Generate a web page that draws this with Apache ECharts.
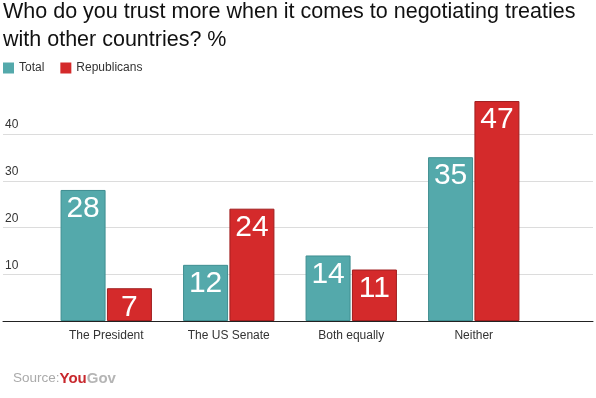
<!DOCTYPE html>
<html>
<head>
<meta charset="utf-8">
<script src="https://cdn.jsdelivr.net/npm/echarts@6/dist/echarts.min.js"></script>
<style>
  html, body { margin: 0; padding: 0; background: #fff; }
  #chart { width: 596px; height: 398px; }
</style>
</head>
<body>
<div id="chart"></div>
<script>
// data
const categories = ['The President', 'The US Senate', 'Both equally', 'Neither'];
const totalValues = [28, 12, 14, 35];
const republicanValues = [7, 24, 11, 47];
const yTicks = [0, 10, 20, 30, 40];

const font = 'Arial, "Liberation Sans", sans-serif';
const teal = '#54a9ab';
const red = '#d42a2b';

let myChart = echarts.init(document.getElementById('chart'));

function barLabel() {
    return {
        show: true,
        position: 'insideTop',
        distance: 4,
        color: '#fff',
        fontSize: 30,
        fontFamily: font
    };
}

myChart.setOption({
    animation: false,
    title: {
        text: 'Who do you trust more when it comes to negotiating treaties\nwith other countries? %',
        left: 0,
        top: -2,
        padding: [0, 3],
        textStyle: {
            fontSize: 21.5,
            lineHeight: 28,
            fontWeight: 'normal',
            color: '#111',
            fontFamily: font
        }
    },
    legend: {
        left: 0,
        top: 62,
        padding: [0, 3],
        icon: 'rect',
        itemWidth: 11,
        itemHeight: 11,
        itemGap: 16,
        itemStyle: { borderWidth: 0 },
        data: ['Total', 'Republicans'],
        textStyle: { fontSize: 12, color: '#333', fontFamily: font }
    },
    grid: [
        // gridlines + y labels
        { left: 3, right: 3, top: 134, bottom: 77 },
        // bars
        { left: 45, width: 490, top: 87, bottom: 77 }
    ],
    xAxis: [
        {
            gridIndex: 0,
            type: 'value',
            min: 0,
            max: 1,
            axisLine: { show: true, lineStyle: { color: '#222', width: 1 } },
            axisTick: { show: false },
            axisLabel: { show: false },
            splitLine: { show: false }
        },
        {
            gridIndex: 1,
            type: 'category',
            data: categories,
            axisLine: { show: false },
            axisTick: { show: false },
            axisLabel: { color: '#333', fontSize: 12, margin: 9, fontFamily: font }
        }
    ],
    yAxis: [
        {
            gridIndex: 0,
            type: 'value',
            min: yTicks[0],
            max: yTicks[yTicks.length - 1],
            interval: 10,
            axisLine: { show: false },
            axisTick: { show: false },
            axisLabel: {
                inside: true,
                showMinLabel: false,
                margin: 2,
                verticalAlign: 'bottom',
                padding: [0, 0, 3, 0],
                color: '#333',
                fontSize: 12,
                fontFamily: font
            },
            splitLine: { lineStyle: { color: '#dcdcdc' } }
        },
        {
            gridIndex: 1,
            type: 'value',
            min: 0,
            max: 50,
            show: false
        }
    ],
    series: [
        {
            name: 'Total',
            type: 'bar',
            xAxisIndex: 1,
            yAxisIndex: 1,
            data: totalValues,
            barWidth: 45,
            barGap: '3%',
            itemStyle: { color: teal, borderColor: '#3f8e91', borderWidth: 1 },
            label: barLabel()
        },
        {
            name: 'Republicans',
            type: 'bar',
            xAxisIndex: 1,
            yAxisIndex: 1,
            data: republicanValues,
            barWidth: 45,
            itemStyle: { color: red, borderColor: '#a01e1f', borderWidth: 1 },
            label: barLabel()
        }
    ],
    graphic: [
        {
            type: 'text',
            left: 13,
            top: 371,
            style: {
                text: '{s|Source:}{y|You}{g|Gov}',
                rich: {
                    s: { fill: '#aaa', fontSize: 13.5, fontFamily: font },
                    y: { fill: '#c8282d', fontSize: 15, fontWeight: 'bold', fontFamily: font },
                    g: { fill: '#b5b5b5', fontSize: 15, fontWeight: 'bold', fontFamily: font }
                }
            }
        }
    ]
});

window.addEventListener('resize', () => {
    myChart.resize();
});
</script>
</body>
</html>
